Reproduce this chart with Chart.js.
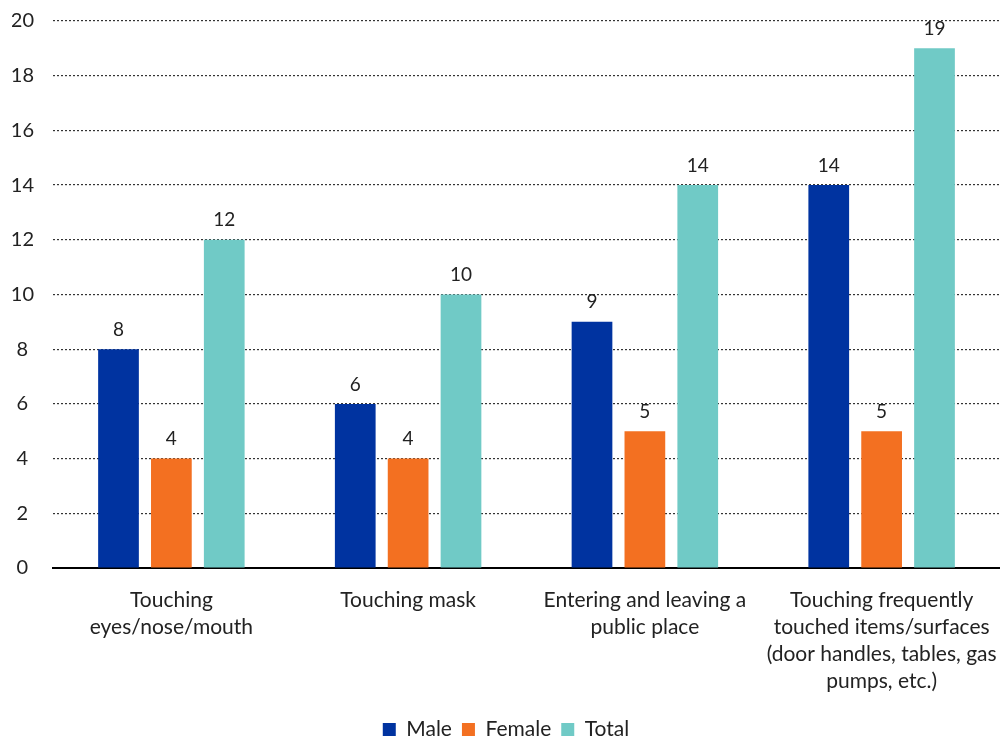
<!DOCTYPE html>
<html>
<head>
<meta charset="utf-8">
<script src="https://cdn.jsdelivr.net/npm/chart.js@4"></script>
<style>
  html, body { margin: 0; padding: 0; background: #fff; }
  #wrap { width: 1000px; height: 742px; }
</style>
</head>
<body>
<div id="wrap"><canvas id="chart"></canvas></div>
<script>
const categories = [
  ['Touching', 'eyes/nose/mouth'],
  ['Touching mask'],
  ['Entering and leaving a', 'public place'],
  ['Touching frequently', 'touched items/surfaces', '(door handles, tables, gas', 'pumps, etc.)']
];
const male = [8, 6, 9, 14];
const female = [4, 4, 5, 5];
const total = [12, 10, 14, 19];

const FONT = 'Lato, "Open Sans", sans-serif';

// write each bar's value just above it
const barValues = {
  id: 'barValues',
  afterDatasetsDraw(chart) {
    const ctx = chart.ctx;
    ctx.save();
    ctx.font = '19px ' + FONT;
    ctx.fillStyle = '#222';
    ctx.textAlign = 'center';
    ctx.textBaseline = 'bottom';
    chart.data.datasets.forEach((ds, i) => {
      chart.getDatasetMeta(i).data.forEach((bar, j) => {
        ctx.fillText(ds.data[j], bar.x, bar.y - 10);
      });
    });
    ctx.restore();
  }
};

new Chart(document.getElementById('chart'), {
  type: 'bar',
  data: {
    labels: categories,
    datasets: [
      { label: 'Male', data: male, backgroundColor: '#0033a0' },
      { label: 'Female', data: female, backgroundColor: '#f37021' },
      { label: 'Total', data: total, backgroundColor: '#70cac6' }
    ]
  },
  options: {
    responsive: true,
    maintainAspectRatio: false,
    animation: false,
    categoryPercentage: 0.67,
    barPercentage: 0.77,
    layout: { padding: { top: 21, right: 0, left: 12, bottom: -8 } },
    plugins: {
      legend: {
        position: 'bottom',
        labels: {
          boxWidth: 13,
          boxHeight: 13,
          padding: 10,
          color: '#222',
          font: { family: FONT, size: 21 }
        }
      },
      tooltip: { enabled: false }
    },
    scales: {
      x: {
        grid: { display: false },
        border: { display: true, color: '#000', width: 2 },
        ticks: {
          color: '#222',
          font: { family: FONT, size: 21, lineHeight: 1.286 },
          autoSkip: false,
          maxRotation: 0,
          padding: 11
        },
        // extra room under the labels; the plot runs to both edges
        afterFit(scale) {
          scale.height += 3;
          scale.paddingLeft = 0;
          scale.paddingRight = 0;
        }
      },
      y: {
        min: 0,
        max: 20,
        ticks: {
          stepSize: 2,
          color: '#222',
          crossAlign: 'center',
          font: { family: FONT, size: 20 },
          padding: 19
        },
        grid: {
          color: '#333',
          lineWidth: 1.2,
          drawTicks: false
        },
        border: { display: false, dash: [2, 2] },
        afterFit(scale) {
          scale.width = 41;
          scale.paddingTop = 0;
          scale.paddingBottom = 0;
        }
      }
    }
  },
  plugins: [barValues]
});
</script>
</body>
</html>
